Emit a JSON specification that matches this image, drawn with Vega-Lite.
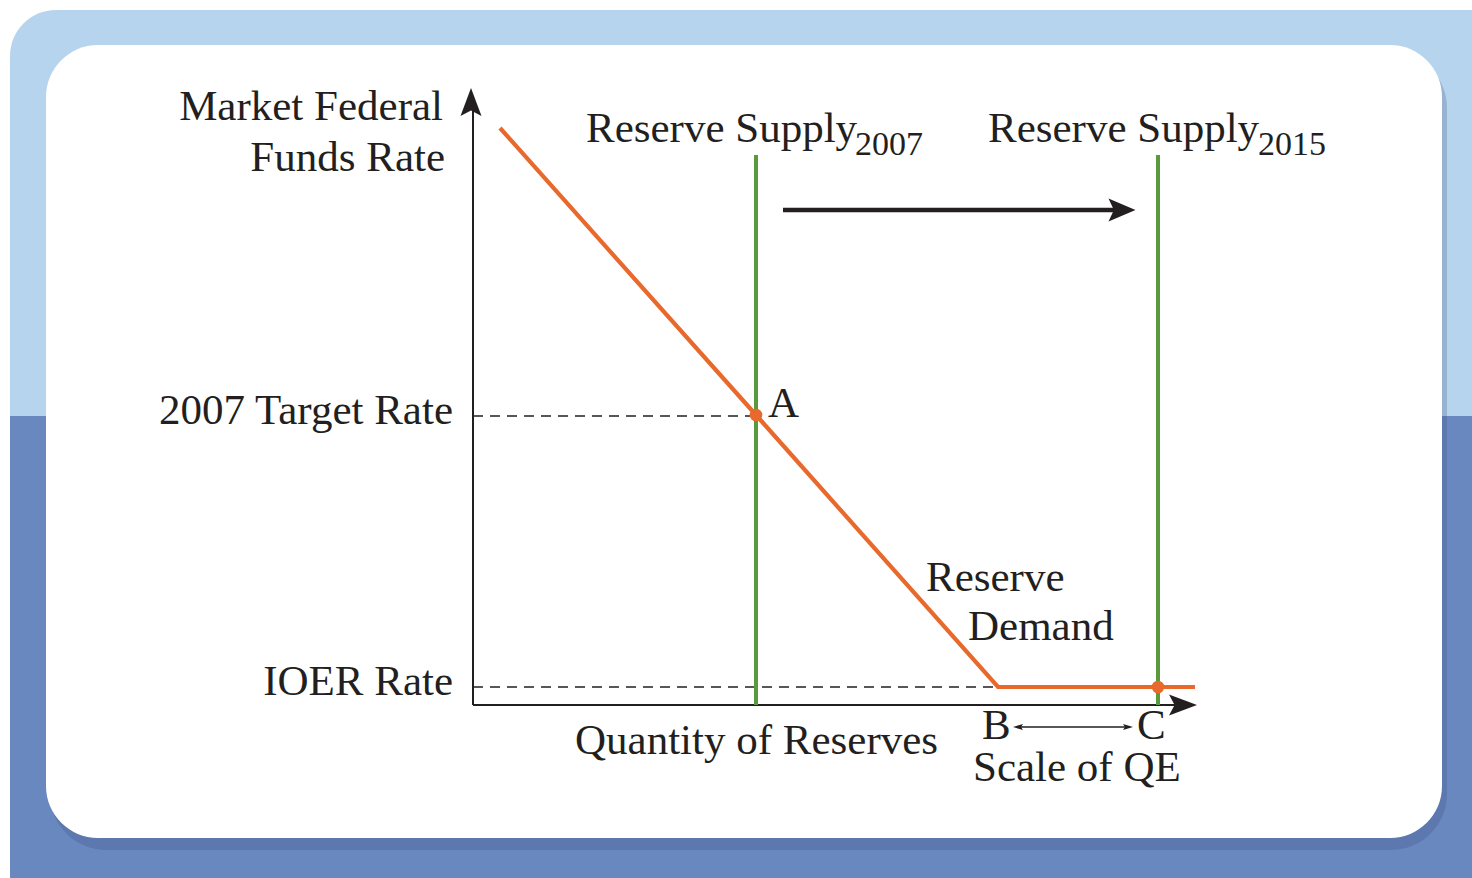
{
  "$schema": "https://vega.github.io/schema/vega-lite/v6.json",
  "width": 1472,
  "height": 878,
  "autosize": {"type": "fit", "contains": "padding"},
  "padding": 0,
  "background": "#ffffff",
  "config": {"view": {"stroke": null}},
  "encoding": {
    "x": {"field": "x", "type": "quantitative", "scale": {"domain": [0, 1472], "nice": false, "zero": false}, "axis": null},
    "y": {"field": "y", "type": "quantitative", "scale": {"domain": [0, 878], "nice": false, "zero": false, "reverse": true}, "axis": null}
  },
  "layer": [
    {
      "data": {"values": [{"x": 10, "x2": 1472, "y": 10, "y2": 878}]},
      "mark": {"type": "rect", "color": "#b6d4ee", "cornerRadiusTopLeft": 46},
      "encoding": {"x2": {"field": "x2"}, "y2": {"field": "y2"}}
    },
    {
      "data": {"values": [{"x": 10, "x2": 1472, "y": 416, "y2": 878}]},
      "mark": {"type": "rect", "color": "#6a88c0"},
      "encoding": {"x2": {"field": "x2"}, "y2": {"field": "y2"}}
    },
    {
      "data": {"values": [{"x": 50, "x2": 1447, "y": 52, "y2": 850}]},
      "mark": {"type": "rect", "color": "#2c3f70", "opacity": 0.22, "cornerRadius": 56},
      "encoding": {"x2": {"field": "x2"}, "y2": {"field": "y2"}}
    },
    {
      "data": {"values": [{"x": 46, "x2": 1442, "y": 45, "y2": 838}]},
      "mark": {"type": "rect", "color": "#ffffff", "cornerRadius": 52},
      "encoding": {"x2": {"field": "x2"}, "y2": {"field": "y2"}}
    },
    {
      "data": {"values": [{"x": 473, "x2": 754, "y": 416}, {"x": 473, "x2": 998, "y": 687}]},
      "mark": {"type": "rule", "color": "#231f20", "strokeWidth": 1.7, "strokeDash": [10, 7]},
      "encoding": {"x2": {"field": "x2"}}
    },
    {
      "data": {"values": [{"x": 473, "y": 100, "y2": 705}]},
      "mark": {"type": "rule", "color": "#231f20", "strokeWidth": 2},
      "encoding": {"y2": {"field": "y2"}}
    },
    {
      "data": {"values": [{"x": 473, "x2": 1185, "y": 705}]},
      "mark": {"type": "rule", "color": "#231f20", "strokeWidth": 2},
      "encoding": {"x2": {"field": "x2"}}
    },
    {
      "data": {"values": [{"x": 756, "y": 155, "y2": 705}, {"x": 1158, "y": 155, "y2": 705}]},
      "mark": {"type": "rule", "color": "#5b9a3c", "strokeWidth": 4},
      "encoding": {"y2": {"field": "y2"}}
    },
    {
      "data": {"values": [{"x": 500, "y": 128, "o": 1}, {"x": 756, "y": 415, "o": 2}, {"x": 998, "y": 687, "o": 3}, {"x": 1195, "y": 687, "o": 4}]},
      "mark": {"type": "line", "color": "#e8692b", "strokeWidth": 4.2, "strokeJoin": "miter"},
      "encoding": {"order": {"field": "o", "type": "quantitative"}}
    },
    {
      "data": {"values": [{"x": 756, "y": 415}, {"x": 1158, "y": 687}]},
      "mark": {"type": "point", "shape": "circle", "filled": true, "color": "#e8692b", "opacity": 1, "size": 160}
    },
    {
      "data": {"values": [{"x": 783, "x2": 1115, "y": 210}]},
      "mark": {"type": "rule", "color": "#231f20", "strokeWidth": 4.5},
      "encoding": {"x2": {"field": "x2"}}
    },
    {
      "data": {"values": [{"x": 1016, "x2": 1130, "y": 727}]},
      "mark": {"type": "rule", "color": "#231f20", "strokeWidth": 1.6},
      "encoding": {"x2": {"field": "x2"}}
    },
    {
      "data": {"values": [{"x": 471, "y": 102}]},
      "mark": {"type": "point", "shape": "M0,-1L0.75,1L0,0.6L-0.75,1Z", "filled": true, "color": "#231f20", "opacity": 1, "size": 784}
    },
    {
      "data": {"values": [{"x": 1183, "y": 705}]},
      "mark": {"type": "point", "shape": "M1,0L-1,-0.75L-0.6,0L-1,0.75Z", "filled": true, "color": "#231f20", "opacity": 1, "size": 784}
    },
    {
      "data": {"values": [{"x": 1122, "y": 210}]},
      "mark": {"type": "point", "shape": "M1,0L-1,-0.85L-0.6,0L-1,0.85Z", "filled": true, "color": "#231f20", "opacity": 1, "size": 729}
    },
    {
      "data": {"values": [{"x": 1128, "y": 727}]},
      "mark": {"type": "point", "shape": "M1,0L-1,-0.6L-0.6,0L-1,0.6Z", "filled": true, "color": "#231f20", "opacity": 1, "size": 100}
    },
    {
      "data": {"values": [{"x": 1018, "y": 727}]},
      "mark": {"type": "point", "shape": "M-1,0L1,-0.6L0.6,0L1,0.6Z", "filled": true, "color": "#231f20", "opacity": 1, "size": 100}
    },
    {
      "data": {"values": [
        {"x": 443, "y": 120, "t": "Market Federal"},
        {"x": 445, "y": 171, "t": "Funds Rate"},
        {"x": 453, "y": 424, "t": "2007 Target Rate"},
        {"x": 453, "y": 695, "t": "IOER Rate"}
      ]},
      "mark": {"type": "text", "align": "right", "baseline": "alphabetic", "font": "Liberation Serif", "fontSize": 43, "color": "#231f20"},
      "encoding": {"text": {"field": "t"}}
    },
    {
      "data": {"values": [
        {"x": 586, "y": 142, "t": "Reserve Supply"},
        {"x": 988, "y": 142, "t": "Reserve Supply"},
        {"x": 768, "y": 417, "t": "A"},
        {"x": 926, "y": 591, "t": "Reserve"},
        {"x": 968, "y": 640, "t": "Demand"},
        {"x": 575, "y": 754, "t": "Quantity of Reserves"},
        {"x": 982, "y": 739, "t": "B"},
        {"x": 1137, "y": 739, "t": "C"},
        {"x": 973, "y": 781, "t": "Scale of QE"}
      ]},
      "mark": {"type": "text", "align": "left", "baseline": "alphabetic", "font": "Liberation Serif", "fontSize": 43, "color": "#231f20"},
      "encoding": {"text": {"field": "t"}}
    },
    {
      "data": {"values": [
        {"x": 855, "y": 155, "t": "2007"},
        {"x": 1258, "y": 155, "t": "2015"}
      ]},
      "mark": {"type": "text", "align": "left", "baseline": "alphabetic", "font": "Liberation Serif", "fontSize": 34, "color": "#231f20"},
      "encoding": {"text": {"field": "t"}}
    }
  ]
}
